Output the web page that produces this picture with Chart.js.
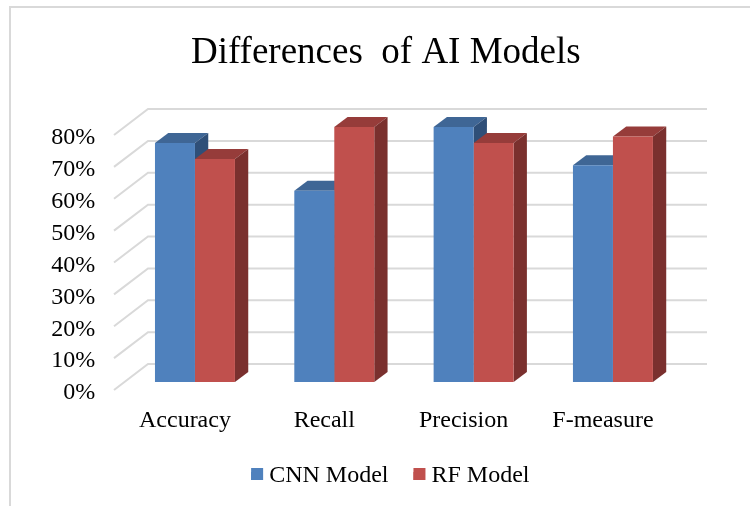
<!DOCTYPE html>
<html>
<head>
<meta charset="utf-8">
<style>
  html, body { margin: 0; padding: 0; background: #fff; overflow: hidden; }
  #wrap { position: relative; width: 750px; height: 506px; }
  #frame { position: absolute; left: 9px; top: 6px; right: 0; bottom: 0; border-left: 2px solid #d9d9d9; border-top: 2px solid #d9d9d9; }
</style>
<script src="https://cdn.jsdelivr.net/npm/chart.js@4"></script>
</head>
<body>
<div id="wrap">
  <div id="frame"></div>
  <canvas id="chart" width="750" height="506" style="position:absolute;left:0;top:0"></canvas>
</div>
<script>
const categories = ['Accuracy', 'Recall', 'Precision', 'F-measure'];
const cnnValues = [75, 60, 80, 68];
const rfValues = [70, 80, 75, 77];
const axisMax = 80;
const axisStep = 10;

const SERIF = '"Liberation Serif", serif';

const palette = [
    { front: '#4F81BD', top: '#3F6695', side: '#2F4F78' },
    { front: '#C0504D', top: '#963C3A', side: '#7A302E' },
];

function face(ctx, color, pts) {
    ctx.fillStyle = color;
    ctx.beginPath();
    pts.forEach((p, i) => i ? ctx.lineTo(p[0], p[1]) : ctx.moveTo(p[0], p[1]));
    ctx.closePath();
    ctx.fill();
}

// back wall + side/top of each bar, the fronts are the library's own bars
const depthPlugin = {
    id: 'depth',
    afterLayout(chart) {
        // title and legend sit off the plot's centre
        chart.titleBlock.left += 24.5;
        chart.titleBlock.right += 24.5;
        chart.legend.left += 29;
        chart.legend.right += 29;
        chart.legend.top -= 8;
        chart.legend.bottom -= 8;
    },
    beforeDatasetsDraw(chart) {
        const ctx = chart.ctx;
        const y = chart.scales.y;
        ctx.save();
        ctx.strokeStyle = '#d9d9d9';
        ctx.lineWidth = 2;
        y.ticks.forEach(t => {
            const py = y.getPixelForValue(t.value);
            ctx.beginPath();
            ctx.moveTo(114, py + 8);
            ctx.lineTo(148, py - 18);
            ctx.lineTo(707, py - 18);
            ctx.stroke();
        });
        const dx = 13.3, dy = 10;
        chart.data.datasets.forEach((ds, i) => {
            chart.getDatasetMeta(i).data.forEach(bar => {
                const l = bar.x - bar.width / 2, r = bar.x + bar.width / 2;
                face(ctx, palette[i].top, [[l, bar.y], [l + dx, bar.y - dy], [r + dx, bar.y - dy], [r, bar.y]]);
                face(ctx, palette[i].side, [[r, bar.y], [r + dx, bar.y - dy], [r + dx, bar.base - dy], [r, bar.base]]);
            });
        });
        ctx.restore();
    },
    afterDraw(chart) {
        // legend boxes are kept narrow so the text sits close, widen them here
        const ctx = chart.ctx;
        chart.legend.legendHitBoxes.forEach((b, i) => {
            ctx.fillStyle = palette[i].front;
            ctx.fillRect(b.left, b.top + (b.height - 12) / 2 - 2, 12, 12);
        });
    },
};

new Chart(document.getElementById('chart').getContext('2d'), {
    type: 'bar',
    plugins: [depthPlugin],
    data: {
        labels: categories,
        datasets: [
            { label: 'CNN Model', data: cnnValues, backgroundColor: palette[0].front },
            { label: 'RF Model', data: rfValues, backgroundColor: palette[1].front },
        ],
    },
    options: {
        responsive: false,
        animation: false,
        layout: { padding: { left: 40, right: 67.4, top: 0, bottom: 0 } },
        datasets: { bar: { barPercentage: 1, categoryPercentage: 0.574 } },
        scales: {
            x: {
                grid: { display: false },
                border: { display: false },
                afterFit: a => { a.height = 65; },
                ticks: {
                    color: '#000',
                    font: { family: SERIF, size: 24 },
                    padding: 16,
                    labelOffset: -10,
                    maxRotation: 0,
                    minRotation: 0,
                },
            },
            y: {
                min: 0,
                max: axisMax,
                grid: { display: false },
                border: { display: false },
                afterFit: a => { a.width = 85.3; },
                ticks: {
                    stepSize: axisStep,
                    autoSkip: false,
                    color: '#000',
                    font: { family: SERIF, size: 24 },
                    padding: 22,
                    labelOffset: 11,
                    callback: v => v + '%',
                },
            },
        },
        plugins: {
            title: {
                display: true,
                text: 'Differences  of AI Models',
                color: '#000',
                font: { family: SERIF, size: 37, weight: 'normal' },
                padding: { top: 31, bottom: 51.6 },
            },
            legend: {
                display: true,
                position: 'bottom',
                labels: {
                    color: '#000',
                    font: { family: SERIF, size: 24 },
                    boxWidth: 6,
                    boxHeight: 8,
                    padding: 25,
                },
            },
            tooltip: { enabled: false },
        },
    },
});
</script>
</body>
</html>
